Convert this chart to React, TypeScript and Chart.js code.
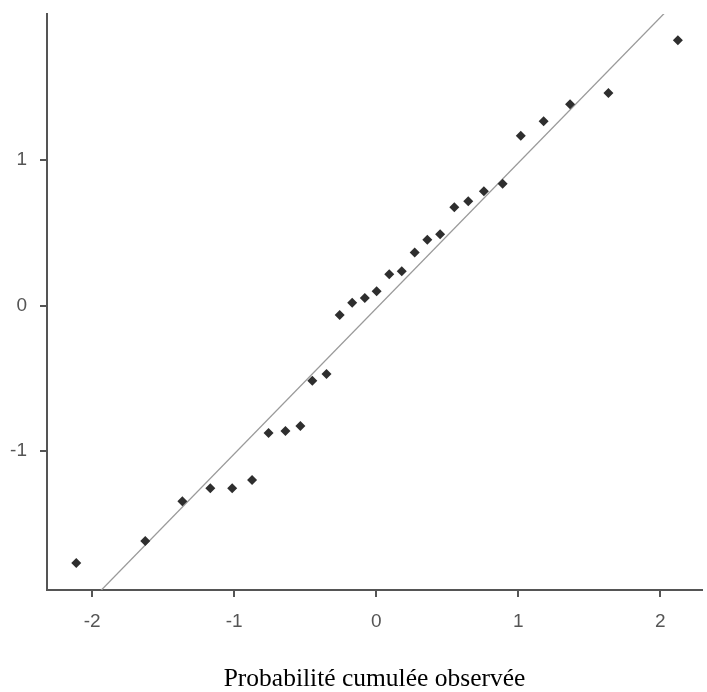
import React, { useEffect, useRef } from "react";
import { Chart, registerables } from "chart.js";

Chart.register(...registerables);

// Observed points (expected normal quantile vs. standardized value)
const pointX = [
  -2.112, -1.626, -1.365, -1.168, -1.014, -0.874, -0.758, -0.639, -0.534, -0.45,
  -0.35, -0.257, -0.169, -0.08, 0.003, 0.092, 0.18, 0.271, 0.36, 0.45,
  0.55, 0.648, 0.758, 0.89, 1.018, 1.179, 1.365, 1.635, 2.124,
];
const pointY = [
  -1.769, -1.618, -1.345, -1.256, -1.256, -1.199, -0.876, -0.862, -0.828, -0.516,
  -0.47, -0.065, 0.02, 0.052, 0.098, 0.215, 0.236, 0.364, 0.453, 0.49,
  0.676, 0.717, 0.786, 0.838, 1.168, 1.267, 1.383, 1.461, 1.823,
];

// Reference line endpoints
const lineX = [-2.4, 2.4];
const lineY = [-2.42, 2.38];

const xTicks = [-2, -1, 0, 1, 2];
const yTicks = [-1, 0, 1];
const xTitle = "Probabilité cumulée observée";

export default function App() {
  const ref = useRef<HTMLCanvasElement | null>(null);

  useEffect(() => {
    document.body.style.margin = "0";
    const canvas = ref.current;
    if (!canvas) return;
    const axisColor = "#555555";
    const tickFont = { family: "'Liberation Sans', Arial, sans-serif", size: 19 };
    const chart = new Chart(canvas, {
      type: "scatter",
      data: {
        datasets: [
          {
            type: "line",
            data: lineX.map((x, i) => ({ x, y: lineY[i] })),
            borderColor: "#9a9a9a",
            borderWidth: 1.3,
            pointRadius: 0,
            fill: false,
            order: 2,
          } as any,
          {
            data: pointX.map((x, i) => ({ x, y: pointY[i] })),
            pointStyle: "rectRot",
            pointRadius: 5,
            backgroundColor: "#2e2e2e",
            borderColor: "#2e2e2e",
            borderWidth: 0,
            order: 1,
          },
        ],
      },
      options: {
        animation: false,
        responsive: false,
        maintainAspectRatio: false,
        layout: { padding: { top: 14, right: 0, left: 0, bottom: 0 } },
        plugins: {
          legend: { display: false },
          tooltip: { enabled: false },
        },
        scales: {
          x: {
            type: "linear",
            min: -2.318,
            max: 2.294,
            afterBuildTicks: (s: any) => {
              s.ticks = xTicks.map((v) => ({ value: v }));
            },
            afterFit: (s: any) => {
              s.height = 102;
              s.paddingLeft = 0;
              s.paddingRight = 0;
            },
            ticks: {
              color: "#555555",
              font: tickFont,
              padding: 13,
              maxRotation: 0,
              callback: (v: any) => String(v),
            },
            grid: {
              display: true,
              drawOnChartArea: false,
              drawTicks: true,
              tickLength: 7,
              color: axisColor,
              lineWidth: 2,
            },
            border: { display: true, color: axisColor, width: 2 },
            title: {
              display: true,
              text: xTitle,
              color: "#000000",
              font: { family: "'Liberation Serif', 'Times New Roman', serif", size: 25.5 },
              padding: { top: 0, bottom: -3 },
            },
          },
          y: {
            type: "linear",
            min: -1.955,
            max: 2.004,
            afterBuildTicks: (s: any) => {
              s.ticks = yTicks.map((v) => ({ value: v }));
            },
            afterFit: (s: any) => {
              s.width = 47;
              s.paddingTop = 0;
              s.paddingBottom = 0;
            },
            ticks: {
              color: "#555555",
              font: tickFont,
              padding: 13,
              callback: (v: any) => String(v),
            },
            grid: {
              display: true,
              drawOnChartArea: false,
              drawTicks: true,
              tickLength: 7,
              color: axisColor,
              lineWidth: 2,
            },
            border: { display: true, color: axisColor, width: 2 },
          },
        },
      },
    });
    return () => chart.destroy();
  }, []);

  return (
    <div style={{ width: 707, height: 692, background: "#ffffff" }}>
      <canvas ref={ref} width={707} height={692} style={{ display: "block", width: 707, height: 692 }} />
    </div>
  );
}
